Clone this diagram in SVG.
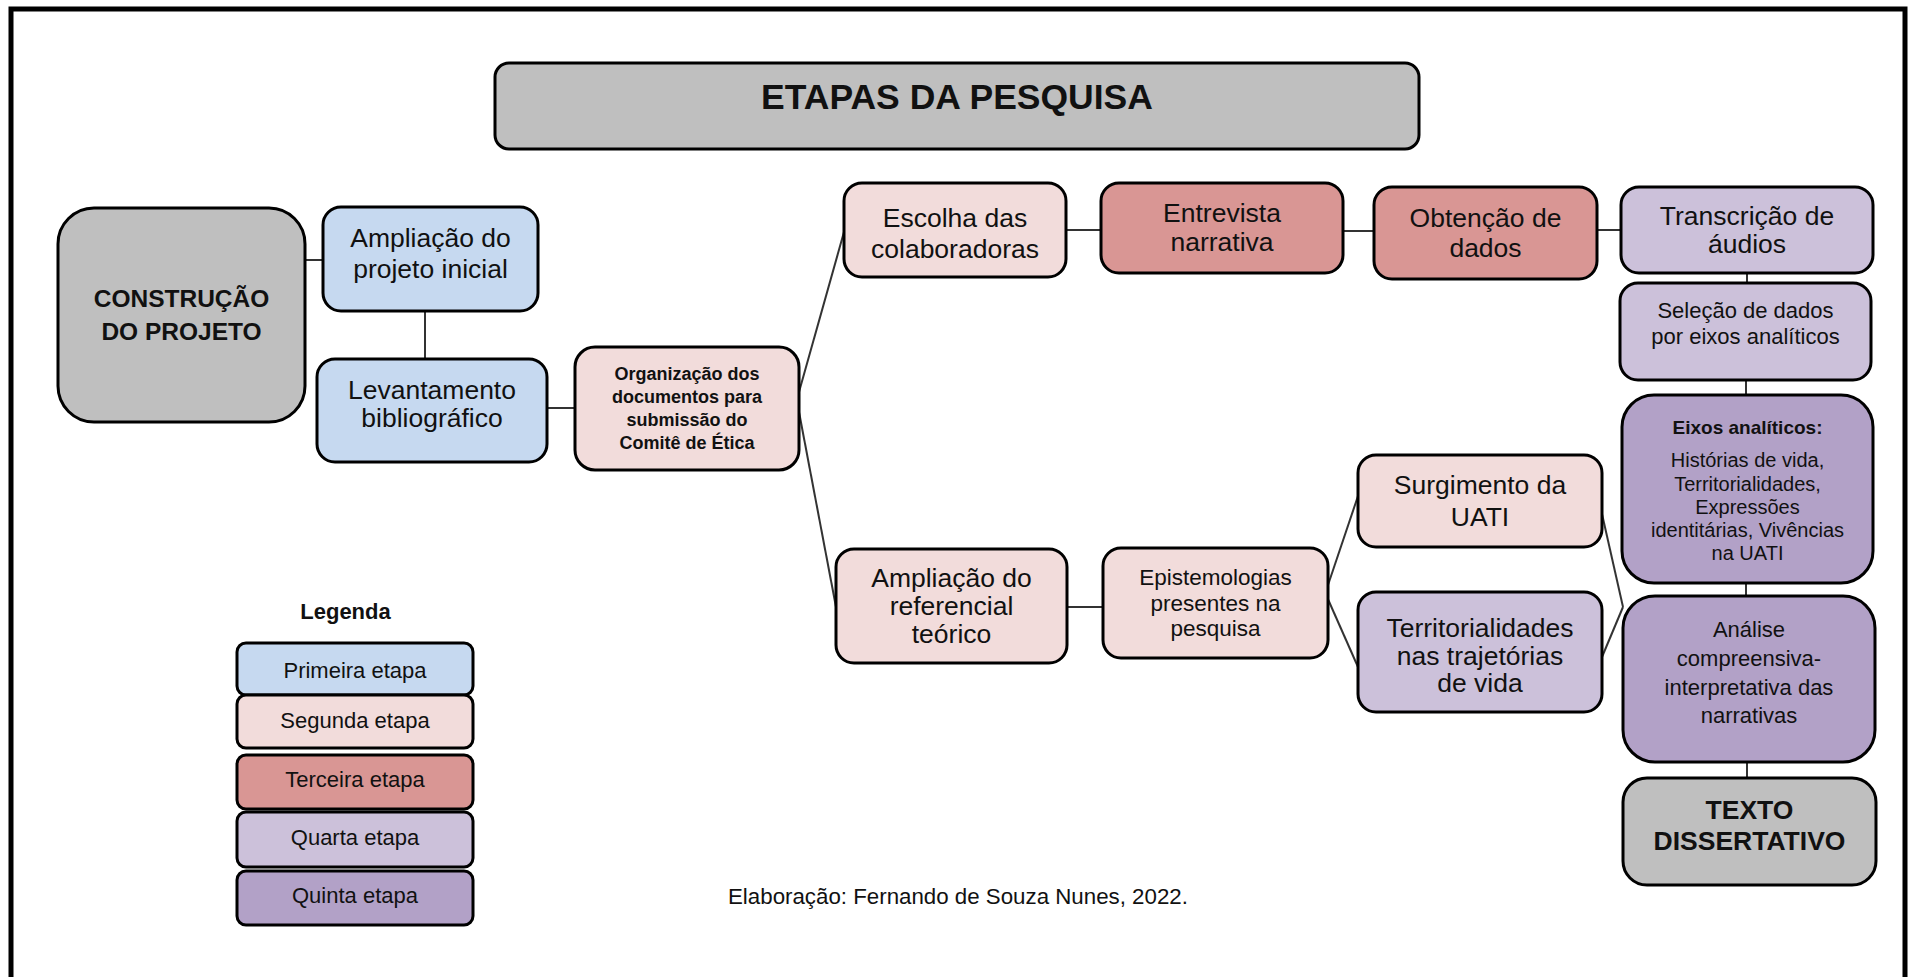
<svg xmlns="http://www.w3.org/2000/svg" width="1914" height="977" viewBox="0 0 1914 977">
<style>
.box{stroke:#000;stroke-width:3}
.gray{fill:#bfbfbf}
.blue{fill:#c6d9f0}
.pink{fill:#f2dcdb}
.red{fill:#d99694}
.lilac{fill:#ccc1da}
.purple{fill:#b2a1c7}
text{font-family:"Liberation Sans",Arial,sans-serif;fill:#111;text-anchor:middle}
.b{font-weight:bold}
.t26{font-size:26.5px}
.t22{font-size:22px}
.conn line{stroke:#333;stroke-width:2}
</style>
<rect width="1914" height="977" fill="#fff"/>
<path d="M11,990 V9 H1905 V990" fill="none" stroke="#000" stroke-width="5"/>
<g id="connectors" class="conn">
<line x1="305" y1="260" x2="323" y2="260"/>
<line x1="425" y1="311" x2="425" y2="359"/>
<line x1="547" y1="408" x2="575" y2="408"/>
<line x1="799" y1="392" x2="844" y2="232"/>
<line x1="799" y1="412" x2="836" y2="607"/>
<line x1="1066" y1="230" x2="1101" y2="230"/>
<line x1="1343" y1="231" x2="1374" y2="231"/>
<line x1="1597" y1="230" x2="1621" y2="230"/>
<line x1="1747" y1="273" x2="1747" y2="283"/>
<line x1="1746" y1="380" x2="1746" y2="395"/>
<line x1="1067" y1="607" x2="1103" y2="607"/>
<line x1="1327" y1="588" x2="1358" y2="496"/>
<line x1="1327" y1="597" x2="1358" y2="667"/>
<line x1="1602" y1="514" x2="1623" y2="607"/>
<line x1="1602" y1="657" x2="1623" y2="607"/>
<line x1="1746" y1="583" x2="1746" y2="596"/>
<line x1="1747" y1="762" x2="1747" y2="778"/>
</g>
<g id="title">
<rect class="box gray" x="495" y="63" width="924" height="86" rx="14"/>
<text class="b" x="957" y="109" font-size="35.5">ETAPAS DA PESQUISA</text>
</g>
<g id="construcao">
<rect class="box gray" x="58" y="208" width="247" height="214" rx="36"/>
<text class="b" x="181.5" y="307" font-size="24.5">CONSTRUÇÃO</text>
<text class="b" x="181.5" y="340" font-size="24.5">DO PROJETO</text>
</g>
<g id="ampliacao-projeto">
<rect class="box blue" x="323" y="207" width="215" height="104" rx="18"/>
<text class="t26" x="430.5" y="247">Ampliação do</text>
<text class="t26" x="430.5" y="278">projeto inicial</text>
</g>
<g id="levantamento">
<rect class="box blue" x="317" y="359" width="230" height="103" rx="18"/>
<text class="t26" x="432" y="399">Levantamento</text>
<text class="t26" x="432" y="427">bibliográfico</text>
</g>
<g id="organizacao">
<rect class="box pink" x="575" y="347" width="224" height="123" rx="20"/>
<text class="b" x="687" y="380" font-size="18">Organização dos</text>
<text class="b" x="687" y="403" font-size="18">documentos para</text>
<text class="b" x="687" y="426" font-size="18">submissão do</text>
<text class="b" x="687" y="449" font-size="18">Comitê de Ética</text>
</g>
<g id="escolha">
<rect class="box pink" x="844" y="183" width="222" height="94" rx="18"/>
<text class="t26" x="955" y="227">Escolha das</text>
<text class="t26" x="955" y="258">colaboradoras</text>
</g>
<g id="entrevista">
<rect class="box red" x="1101" y="183" width="242" height="90" rx="18"/>
<text class="t26" x="1222" y="222">Entrevista</text>
<text class="t26" x="1222" y="251">narrativa</text>
</g>
<g id="obtencao">
<rect class="box red" x="1374" y="187" width="223" height="92" rx="18"/>
<text class="t26" x="1485.5" y="227">Obtenção de</text>
<text class="t26" x="1485.5" y="257">dados</text>
</g>
<g id="transcricao">
<rect class="box lilac" x="1621" y="187" width="252" height="86" rx="18"/>
<text class="t26" x="1747" y="225">Transcrição de</text>
<text class="t26" x="1747" y="253">áudios</text>
</g>
<g id="selecao">
<rect class="box lilac" x="1620" y="283" width="251" height="97" rx="18"/>
<text class="t22" x="1745.5" y="318">Seleção de dados</text>
<text class="t22" x="1745.5" y="344">por eixos analíticos</text>
</g>
<g id="eixos">
<rect class="box purple" x="1622" y="395" width="251" height="188" rx="32"/>
<text class="b" x="1747.5" y="434" font-size="19">Eixos analíticos:</text>
<text x="1747.5" y="467" font-size="20">Histórias de vida,</text>
<text x="1747.5" y="491" font-size="20">Territorialidades,</text>
<text x="1747.5" y="514" font-size="20">Expressões</text>
<text x="1747.5" y="537" font-size="20">identitárias, Vivências</text>
<text x="1747.5" y="560" font-size="20">na UATI</text>
</g>
<g id="analise">
<rect class="box purple" x="1623" y="596" width="252" height="166" rx="32"/>
<text class="t22" x="1749" y="637">Análise</text>
<text class="t22" x="1749" y="666">compreensiva-</text>
<text class="t22" x="1749" y="695">interpretativa das</text>
<text class="t22" x="1749" y="723">narrativas</text>
</g>
<g id="texto-dissertativo">
<rect class="box gray" x="1623" y="778" width="253" height="107" rx="24"/>
<text class="b" x="1749.5" y="819" font-size="26.5">TEXTO</text>
<text class="b" x="1749.5" y="850" font-size="26.5">DISSERTATIVO</text>
</g>
<g id="surgimento">
<rect class="box pink" x="1358" y="455" width="244" height="92" rx="18"/>
<text class="t26" x="1480" y="494">Surgimento da</text>
<text class="t26" x="1480" y="526">UATI</text>
</g>
<g id="territorialidades">
<rect class="box lilac" x="1358" y="592" width="244" height="120" rx="18"/>
<text class="t26" x="1480" y="637">Territorialidades</text>
<text class="t26" x="1480" y="665">nas trajetórias</text>
<text class="t26" x="1480" y="692">de vida</text>
</g>
<g id="epistemologias">
<rect class="box pink" x="1103" y="548" width="225" height="110" rx="18"/>
<text x="1215.5" y="585" font-size="22.5">Epistemologias</text>
<text x="1215.5" y="611" font-size="22.5">presentes na</text>
<text x="1215.5" y="636" font-size="22.5">pesquisa</text>
</g>
<g id="ampliacao-referencial">
<rect class="box pink" x="836" y="549" width="231" height="114" rx="18"/>
<text class="t26" x="951.5" y="587">Ampliação do</text>
<text class="t26" x="951.5" y="615">referencial</text>
<text class="t26" x="951.5" y="643">teórico</text>
</g>
<g id="legenda">
<text class="b" x="345.5" y="619" font-size="22">Legenda</text>
<rect class="box blue" x="237" y="643" width="236" height="52" rx="9"/>
<text class="t22" x="355" y="678">Primeira etapa</text>
<rect class="box pink" x="237" y="695" width="236" height="53" rx="9"/>
<text class="t22" x="355" y="728">Segunda etapa</text>
<rect class="box red" x="237" y="755" width="236" height="54" rx="9"/>
<text class="t22" x="355" y="787">Terceira etapa</text>
<rect class="box lilac" x="237" y="812" width="236" height="55" rx="9"/>
<text class="t22" x="355" y="845">Quarta etapa</text>
<rect class="box purple" x="237" y="871" width="236" height="54" rx="9"/>
<text class="t22" x="355" y="903">Quinta etapa</text>
</g>
<text x="728" y="904" font-size="22.3" style="text-anchor:start">Elaboração: Fernando de Souza Nunes, 2022.</text>
</svg>
